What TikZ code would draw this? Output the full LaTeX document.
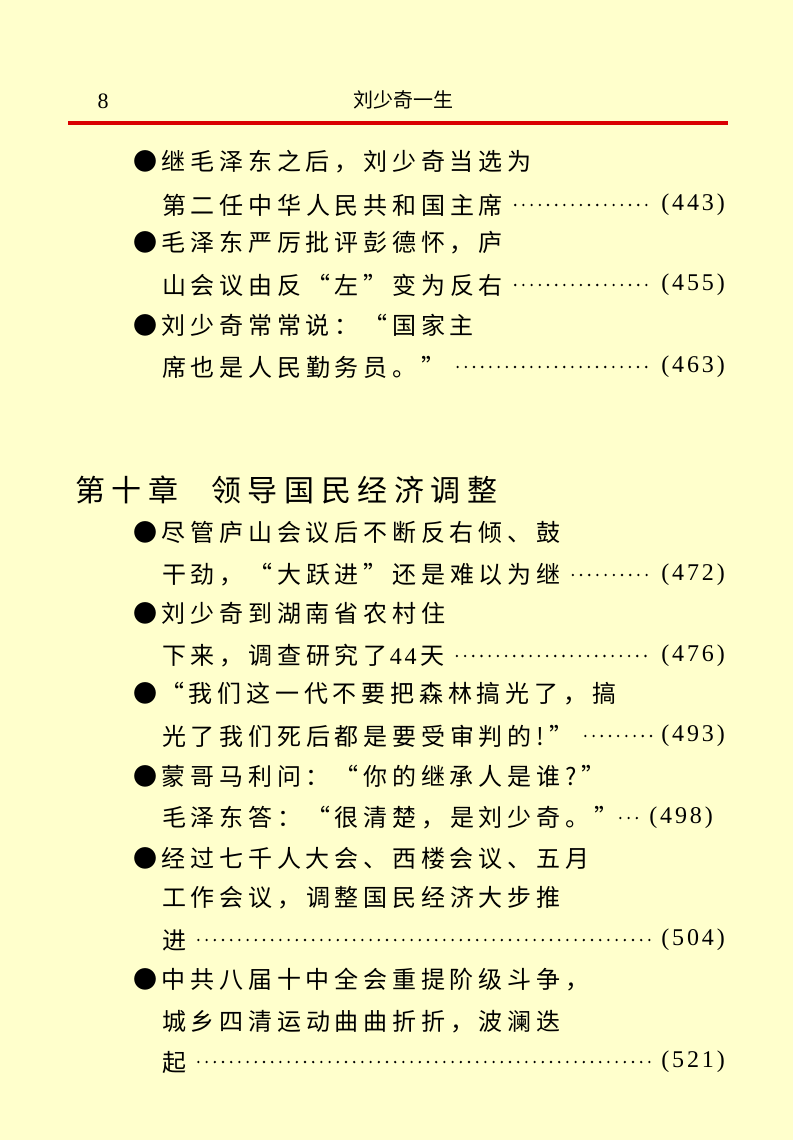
\documentclass[tikz,border=0pt]{standalone}
\usepackage{fontspec}
\newfontfamily\cjk[LetterSpace=20]{Noto Sans CJK SC}
\newfontfamily\cjkt[LetterSpace=22]{Noto Sans CJK SC}
\newfontfamily\cjkh{Noto Sans CJK SC}
\newfontfamily\ser[LetterSpace=12]{Liberation Serif}
\newfontfamily\serh{Liberation Serif}
\begin{document}
\begin{tikzpicture}[x=1pt,y=-1pt,
  t/.style={anchor=west,inner sep=0pt,font=\cjk\fontsize{24}{24}\selectfont},
  num/.style={anchor=east,inner sep=0pt,font=\ser\fontsize{24}{24}\selectfont},
  leader/.style={line width=2.6pt,line cap=round,dash pattern=on 0pt off 8.2pt}]
\fill[fill={rgb,255:red,255;green,255;blue,204}] (0,0) rectangle (793,1140);
\useasboundingbox (0,0) rectangle (793,1140);
\node[inner sep=0pt,font=\serh\fontsize{22}{22}\selectfont] (pg) at (103,101) {8};
\node[inner sep=0pt,font=\cjkh\fontsize{20}{20}\selectfont] (hd) at (403,100) {刘少奇一生};
\coordinate (rl) at (68,123); \coordinate (rr) at (728,123);
\draw[line width=4pt,red!85!black] (rl) -- (rr);
\newcommand\entry[6]{% name, y1, line1, y2, line2, number
  \node[t] (#1a) at (133,#2) {#3};
  \node[t] (#1b) at (162,#4) {#5};
  \node[num] (#1n) at (725,#4) {#6};
  \draw[leader] ([xshift=12pt]#1b.east) -- ([xshift=-10pt]#1n.west);}
\entry{e1}{162}{●继毛泽东之后，刘少奇当选为}{205}{第二任中华人民共和国主席}{(443)}
\entry{e2}{243}{●毛泽东严厉批评彭德怀，庐}{285}{山会议由反“左”变为反右}{(455)}
\entry{e3}{325}{●刘少奇常常说：“国家主}{367}{席也是人民勤务员。”\hspace{20pt}}{(463)}
\node[anchor=west,inner sep=0pt,font=\cjkt\fontsize{30}{30}\selectfont] (ch) at (75,490) {第十章\hspace{33pt}领导国民经济调整};
\entry{f1}{532}{●尽管庐山会议后不断反右倾、鼓}{575}{干劲，“大跃进”还是难以为继\hspace{18pt}}{(472)}
\entry{f2}{613}{●刘少奇到湖南省农村住}{656}{下来，调查研究了\hspace{2pt}{\ser 44}\hspace{4pt}天\hspace{15pt}}{(476)}
\entry{f3}{694}{●\hspace{3pt}“我们这一代不要把森林搞光了，搞}{736}{光了我们死后都是要受审判的!”\hspace{15pt}}{(493)}
\node[t] (f4a) at (133,776) {●蒙哥马利问：“你的继承人是谁?”};
\node[t] (f4b) at (162,818) {毛泽东答：“很清楚，是刘少奇。”};
\node[num] (f4n) at (713,818) {(498)};
\draw[leader] ([xshift=2pt]f4b.east) -- ([xshift=-6pt]f4n.west);
\node[t] (f5a) at (133,858) {●经过七千人大会、西楼会议、五月};
\node[t] (f5c) at (162,898) {工作会议，调整国民经济大步推};
\entry{f5}{-100}{}{940}{进}{(504)}
\node[t] (f6a) at (133,980) {●中共八届十中全会重提阶级斗争，};
\node[t] (f6c) at (162,1022) {城乡四清运动曲曲折折，波澜迭};
\entry{f6}{-100}{}{1062}{起}{(521)}
\end{tikzpicture}
\end{document}
